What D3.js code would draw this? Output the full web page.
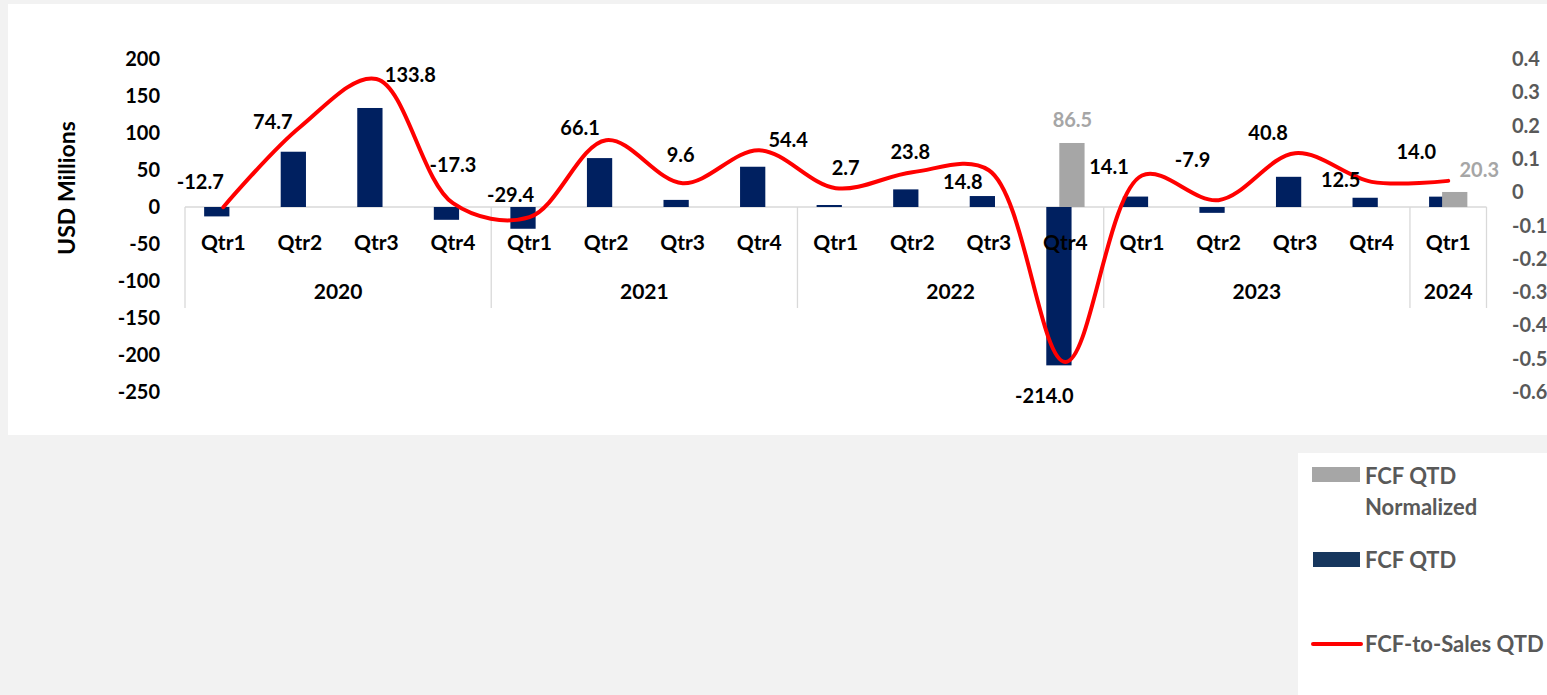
<!DOCTYPE html>
<html>
<head>
<meta charset="utf-8">
<script src="https://cdn.jsdelivr.net/npm/d3@7"></script>
<style>
  body { margin: 0; background: #f2f2f2; }
  svg { display: block; font-family: Lato, "Open Sans", sans-serif; font-weight: 700; }
</style>
</head>
<body>
<div id="chart"></div>
<script>
const WIDTH = 1547;
const HEIGHT = 695;

// data
var years = ["2020", "2021", "2022", "2023", "2024"];
var quarters = ["Qtr1", "Qtr2", "Qtr3", "Qtr4",
                "Qtr1", "Qtr2", "Qtr3", "Qtr4",
                "Qtr1", "Qtr2", "Qtr3", "Qtr4",
                "Qtr1", "Qtr2", "Qtr3", "Qtr4",
                "Qtr1"];
var quarterYear = [0, 0, 0, 0, 1, 1, 1, 1, 2, 2, 2, 2, 3, 3, 3, 3, 4];
var fcf = [-12.7, 74.7, 133.8, -17.3, -29.4, 66.1, 9.6, 54.4,
           2.7, 23.8, 14.8, -214.0, 14.1, -7.9, 40.8, 12.5, 14.0];
var fcfNormalized = [null, null, null, null, null, null, null, null,
                     null, null, null, 86.5, null, null, null, null, 20.3];
var fcfToSales = [-0.045, 0.195, 0.34, -0.033, -0.075, 0.156, 0.027, 0.126,
                  0.012, 0.06, 0.066, -0.51, 0.05, -0.024, 0.117, 0.031, 0.034];
var leftTicks = [200, 150, 100, 50, 0, -50, -100, -150, -200, -250];
var rightTicks = [0.4, 0.3, 0.2, 0.1, 0, -0.1, -0.2, -0.3, -0.4, -0.5, -0.6];

// hand-placed data labels (pixel nudges from the bar end), like the moved excel labels
var fcfNudge = [[-23, -34], [-27, -30], [34, -33], [0, -55], [-19, -34], [-26, -30], [-2, -45], [29, -27],
                [10, -37], [-2, -37], [-26, -14], [-21, 31], [-33, -30], [-26, -53], [-27, -44], [-31, -18], [-32, -45]];
var normNudge = {11: [7, -23], 16: [31, -22]};

var colors = { fcf: "#002060", norm: "#a6a6a6", line: "#ff0000", legendFcf: "#17375e", axisGray: "#595959", grid: "#d9d9d9" };

var svg = d3.select("#chart").append("svg")
    .attr("width", WIDTH)
    .attr("height", HEIGHT);

// white panels
svg.append("rect").attr("x", 8).attr("y", 4).attr("width", WIDTH - 8).attr("height", 431).attr("fill", "#fff");
svg.append("rect").attr("x", 1298).attr("y", 453).attr("width", WIDTH - 1298).attr("height", HEIGHT - 453).attr("fill", "#fff");

var x = d3.scaleBand().domain(d3.range(fcf.length)).range([185, 1486.5]).padding(0);
var y = d3.scaleLinear().domain([-250, 200]).range([392, 59]);
var y2 = d3.scaleLinear().domain([-0.6, 0.4]).range([392, 59]);
var cx = i => x(i) + x.bandwidth() / 2;
var barW = x.bandwidth() * 0.33;
var shift = x.bandwidth() * 0.085;

// category axis
svg.append("line")
    .attr("x1", x.range()[0]).attr("x2", x.range()[1])
    .attr("y1", y(0)).attr("y2", y(0))
    .attr("stroke", colors.grid).attr("stroke-width", 1.3);

var bounds = [0];
quarterYear.forEach((g, i) => { if (i > 0 && g !== quarterYear[i - 1]) bounds.push(i); });
bounds.push(fcf.length);
bounds.forEach(b => {
  var bx = b < fcf.length ? x(b) : x.range()[1];
  svg.append("line")
      .attr("x1", bx).attr("x2", bx)
      .attr("y1", y(0)).attr("y2", 308)
      .attr("stroke", colors.grid).attr("stroke-width", 1.3);
});

// bars
svg.append("g").selectAll("rect")
    .data(fcf)
    .join("rect")
    .attr("x", (d, i) => cx(i) - shift - barW / 2)
    .attr("width", barW)
    .attr("y", d => Math.min(y(d), y(0)))
    .attr("height", d => Math.abs(y(d) - y(0)))
    .attr("fill", colors.fcf);

svg.append("g").selectAll("rect")
    .data(fcfNormalized.map((v, i) => ({ v, i })).filter(d => d.v !== null))
    .join("rect")
    .attr("x", d => cx(d.i) + shift - barW / 2)
    .attr("width", barW)
    .attr("y", d => Math.min(y(d.v), y(0)))
    .attr("height", d => Math.abs(y(d.v) - y(0)))
    .attr("fill", colors.norm);

// quarter + year labels
svg.append("g").selectAll("text")
    .data(quarters)
    .join("text")
    .attr("x", (d, i) => cx(i))
    .attr("y", 250)
    .attr("text-anchor", "middle")
    .attr("font-size", 21)
    .attr("fill", "#000")
    .text(d => d);

svg.append("g").selectAll("text")
    .data(years)
    .join("text")
    .attr("x", (d, g) => {
      var idx = d3.range(fcf.length).filter(i => quarterYear[i] === g);
      return (x(idx[0]) + x(idx[idx.length - 1]) + x.bandwidth()) / 2;
    })
    .attr("y", 299)
    .attr("text-anchor", "middle")
    .attr("font-size", 21)
    .attr("fill", "#000")
    .text(d => d);

// left axis
svg.append("g").selectAll("text")
    .data(leftTicks)
    .join("text")
    .attr("x", 160)
    .attr("y", d => y(d))
    .attr("dy", "0.35em")
    .attr("text-anchor", "end")
    .attr("font-size", 20)
    .attr("fill", "#000")
    .text(d => d);

svg.append("text")
    .attr("transform", "translate(75,188) rotate(-90)")
    .attr("text-anchor", "middle")
    .attr("font-size", 23)
    .attr("fill", "#000")
    .text("USD Millions");

// right axis
svg.append("g").selectAll("text")
    .data(rightTicks)
    .join("text")
    .attr("x", 1512)
    .attr("y", d => y2(d))
    .attr("dy", "0.35em")
    .attr("font-size", 20)
    .attr("fill", colors.axisGray)
    .text(d => d);

// ratio line
var line = d3.line()
    .x((d, i) => cx(i))
    .y(d => y2(d))
    .curve(d3.curveCatmullRom.alpha(0.5));

svg.append("path")
    .datum(fcfToSales)
    .attr("d", line)
    .attr("fill", "none")
    .attr("stroke", colors.line)
    .attr("stroke-width", 4)
    .attr("stroke-linecap", "round");

// data labels
svg.append("g").selectAll("text")
    .data(fcf)
    .join("text")
    .attr("x", (d, i) => cx(i) + fcfNudge[i][0])
    .attr("y", (d, i) => y(d) + fcfNudge[i][1])
    .attr("dy", "0.35em")
    .attr("text-anchor", "middle")
    .attr("font-size", 20)
    .attr("fill", "#000")
    .text(d => d.toFixed(1));

svg.append("g").selectAll("text")
    .data(fcfNormalized.map((v, i) => ({ v, i })).filter(d => d.v !== null))
    .join("text")
    .attr("x", d => cx(d.i) + normNudge[d.i][0])
    .attr("y", d => y(d.v) + normNudge[d.i][1])
    .attr("dy", "0.35em")
    .attr("text-anchor", "middle")
    .attr("font-size", 20)
    .attr("fill", colors.norm)
    .text(d => d.v.toFixed(1));

// legend
var legend = svg.append("g").attr("font-size", 22).attr("fill", colors.axisGray);
legend.append("rect").attr("x", 1312).attr("y", 467).attr("width", 48).attr("height", 15).attr("fill", colors.norm);
legend.append("text").attr("x", 1365).attr("y", 484).text("FCF QTD");
legend.append("text").attr("x", 1365).attr("y", 515).text("Normalized");
legend.append("rect").attr("x", 1313).attr("y", 552).attr("width", 47).attr("height", 15).attr("fill", colors.legendFcf);
legend.append("text").attr("x", 1365).attr("y", 568).text("FCF QTD");
legend.append("line").attr("x1", 1313).attr("x2", 1361).attr("y1", 644).attr("y2", 644)
    .attr("stroke", colors.line).attr("stroke-width", 4).attr("stroke-linecap", "round");
legend.append("text").attr("x", 1365).attr("y", 652).text("FCF-to-Sales QTD");
</script>
</body>
</html>
